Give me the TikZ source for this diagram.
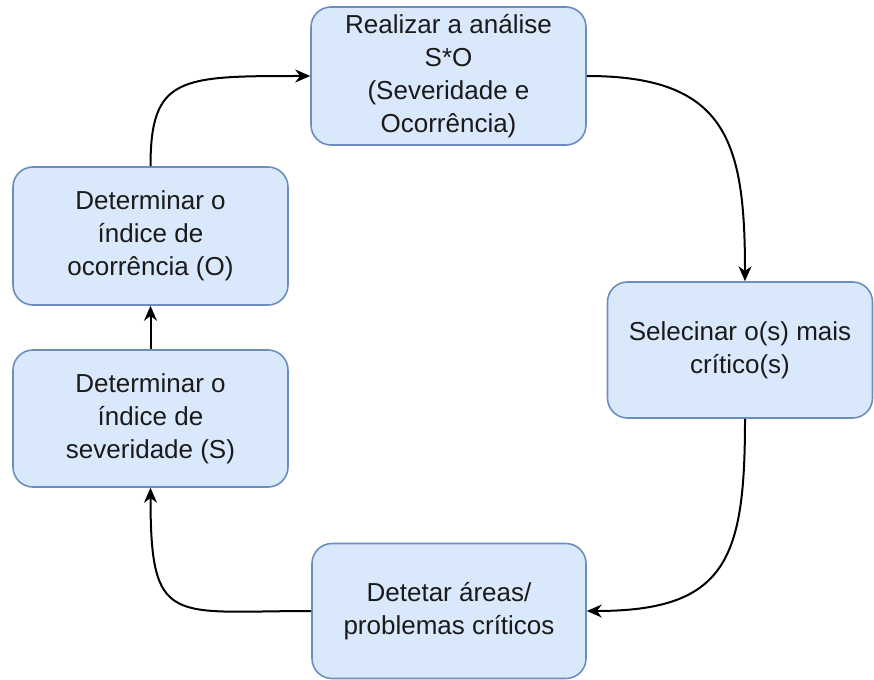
\documentclass[tikz,border=0pt]{standalone}
\usepackage{fontspec}
\setmainfont{Liberation Sans}
\usetikzlibrary{arrows.meta}
\definecolor{boxfill}{HTML}{DAE8FC}
\definecolor{boxline}{HTML}{6C8EBF}
\definecolor{txt}{HTML}{1A1A1A}
\begin{document}
\begin{tikzpicture}[x=1pt,y=-1pt,
  box/.style={draw=boxline, fill=boxfill, line width=1.6pt, rounded corners=20pt,
    align=center, font=\fontsize{26}{33}\selectfont, text=txt, inner sep=0pt},
  conn/.style={draw=black, line width=2pt, -{Stealth[length=15pt,width=13pt]}}]
\useasboundingbox (0,0) rectangle (874,679);
\node[box, minimum width=275pt, minimum height=138pt] (top) at (448.5,76) {Realizar a análise\\S*O\\(Severidade e\\Ocorrência)};
\node[box, minimum width=265pt, minimum height=136pt] (right) at (740,350) {Selecinar o(s) mais\\crítico(s)};
\node[box, minimum width=274pt, minimum height=135pt] (bot) at (449,611) {Detetar áreas/\\problemas críticos};
\node[box, minimum width=275pt, minimum height=137pt] (ll) at (150.5,418.5) {Determinar o\\índice de\\severidade (S)};
\node[box, minimum width=275pt, minimum height=138pt] (lu) at (150.5,236) {Determinar o\\índice de\\ocorrência (O)};
\draw[conn] (top.east) .. controls +(140,0) and +(0,-140) .. ([xshift=5pt]right.north);
\draw[conn] ([xshift=5pt]right.south) .. controls +(0,140) and +(140,0) .. (bot.east);
\draw[conn] (bot.west) .. controls +(-140,0) and +(0,140) .. (ll.south);
\draw[conn] (ll.north) -- (lu.south);
\draw[conn] (lu.north) .. controls +(0,-90) and +(-130,0) .. (top.west);
\end{tikzpicture}
\end{document}
